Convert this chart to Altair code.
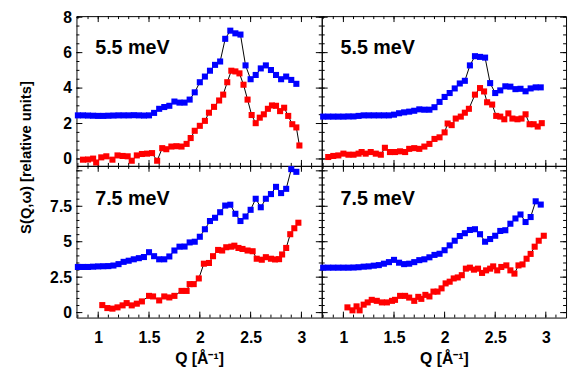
import altair as alt
import pandas as pd

FONT = "Liberation Sans"

# ---------------- data ----------------
Q_GRID = [0.80, 0.85, 0.90, 0.95, 1.00, 1.05, 1.10, 1.15, 1.20, 1.25, 1.30,
          1.35, 1.40, 1.45, 1.50, 1.55, 1.60, 1.65, 1.70, 1.75, 1.80, 1.85,
          1.90, 1.95, 2.00, 2.05, 2.10, 2.15, 2.20, 2.25, 2.30, 2.35, 2.40,
          2.45, 2.50, 2.55, 2.60, 2.65, 2.70, 2.75, 2.80, 2.85, 2.90, 2.95]

BLUE_TL = [2.46, 2.46, 2.45, 2.44, 2.43, 2.43, 2.44, 2.45, 2.46, 2.46, 2.46,
           2.47, 2.46, 2.45, 2.46, 2.60, 2.83, 2.93, 3.00, 3.24, 3.18, 3.18,
           3.35, 3.76, 4.33, 4.65, 4.98, 5.31, 5.50, 6.78, 7.24, 7.09, 7.02,
           5.28, 4.50, 4.74, 5.11, 5.28, 5.02, 4.74, 4.50, 4.65, 4.46, 4.24]
RED_TL_Q = [0.85, 0.90, 0.95, 0.98, 1.03, 1.08, 1.14, 1.19, 1.24, 1.29, 1.33,
            1.38, 1.43, 1.48, 1.53, 1.58, 1.63, 1.67, 1.72, 1.77, 1.82, 1.87,
            1.91, 1.95, 2.00, 2.05, 2.09, 2.14, 2.19, 2.23, 2.27, 2.31, 2.35,
            2.39, 2.43, 2.47, 2.51, 2.55, 2.59, 2.63, 2.67, 2.71, 2.75, 2.79,
            2.83, 2.87, 2.91, 2.95, 2.98]
RED_TL = [-0.04, -0.03, 0.02, -0.20, 0.09, 0.15, -0.04, 0.20, 0.17, 0.15, -0.10,
          0.20, 0.28, 0.30, 0.33, -0.10, 0.61, 0.55, 0.70, 0.72, 0.70, 0.85,
          1.18, 1.59, 1.87, 2.15, 2.61, 2.94, 3.30, 3.63, 4.33, 4.98, 4.94,
          4.83, 4.19, 3.35, 2.48, 2.02, 2.33, 2.52, 2.83, 3.02, 3.00, 2.70,
          2.89, 2.43, 1.96, 1.78, 0.76]

BLUE_TR = [2.39, 2.39, 2.39, 2.39, 2.39, 2.40, 2.40, 2.43, 2.46, 2.46, 2.46,
           2.46, 2.46, 2.46, 2.50, 2.58, 2.63, 2.67, 2.72, 2.80, 2.78, 2.78,
           2.92, 3.22, 3.50, 3.72, 3.98, 4.26, 4.41, 5.28, 5.80, 5.76, 5.72,
           4.28, 3.72, 3.87, 4.10, 4.08, 3.94, 3.96, 3.82, 3.98, 4.04, 4.04]
RED_TR_Q = [0.85, 0.90, 0.95, 1.00, 1.05, 1.10, 1.15, 1.18, 1.22, 1.27, 1.32,
            1.37, 1.41, 1.46, 1.51, 1.56, 1.61, 1.65, 1.70, 1.75, 1.80, 1.85,
            1.90, 1.95, 2.00, 2.03, 2.07, 2.11, 2.16, 2.20, 2.24, 2.30, 2.35,
            2.39, 2.42, 2.47, 2.51, 2.55, 2.59, 2.63, 2.67, 2.72, 2.76, 2.80,
            2.84, 2.88, 2.92, 2.96]
RED_TR = [0.11, 0.17, 0.20, 0.30, 0.24, 0.24, 0.30, 0.39, 0.30, 0.39, 0.30,
          0.24, 0.63, 0.39, 0.39, 0.43, 0.39, 0.57, 0.61, 0.57, 0.70, 0.85,
          1.13, 1.22, 1.50, 2.00, 1.91, 2.28, 2.39, 2.61, 2.83, 3.63, 4.00,
          3.81, 3.20, 3.07, 2.43, 2.39, 2.24, 2.57, 2.28, 2.24, 2.28, 2.52,
          1.96, 1.96, 1.83, 2.02]

BLUE_BL = [3.22, 3.22, 3.22, 3.24, 3.26, 3.27, 3.28, 3.32, 3.42, 3.58, 3.66,
           3.76, 3.84, 3.92, 4.26, 3.98, 3.76, 3.76, 3.96, 4.38, 4.65, 4.66,
           4.95, 5.00, 5.35, 5.88, 6.46, 6.69, 7.08, 7.55, 7.61, 6.97, 6.46,
           6.78, 7.25, 8.03, 7.43, 8.03, 8.36, 8.87, 8.43, 8.73, 10.12, 9.93]
RED_BL_Q = [1.04, 1.09, 1.14, 1.19, 1.24, 1.28, 1.33, 1.38, 1.43, 1.50, 1.54,
            1.60, 1.65, 1.70, 1.75, 1.82, 1.87, 1.90, 1.94, 1.99, 2.04, 2.09,
            2.13, 2.18, 2.22, 2.26, 2.31, 2.34, 2.38, 2.42, 2.47, 2.52, 2.56,
            2.61, 2.65, 2.70, 2.74, 2.78, 2.81, 2.85, 2.89, 2.93, 2.97]
RED_BL = [0.53, 0.32, 0.28, 0.37, 0.51, 0.67, 0.51, 0.63, 0.79, 1.18, 1.14,
          0.86, 1.14, 1.07, 1.18, 1.53, 1.53, 2.01, 2.01, 2.41, 3.45, 3.50,
          3.98, 4.42, 4.38, 4.61, 4.65, 4.72, 4.56, 4.49, 4.38, 4.33, 3.80,
          3.73, 3.91, 3.80, 3.75, 3.77, 4.10, 4.56, 5.53, 5.95, 6.34]

BLUE_BR = [3.17, 3.17, 3.17, 3.17, 3.17, 3.17, 3.18, 3.20, 3.24, 3.26, 3.31,
           3.35, 3.45, 3.56, 3.72, 3.52, 3.42, 3.45, 3.56, 3.70, 3.76, 3.90,
           4.07, 4.15, 4.40, 4.74, 5.07, 5.40, 5.60, 5.83, 5.88, 5.53, 5.00,
           5.19, 5.42, 5.76, 5.81, 6.27, 6.64, 6.92, 6.39, 6.74, 7.85, 7.62]
RED_BR_Q = [1.04, 1.09, 1.13, 1.16, 1.20, 1.24, 1.28, 1.33, 1.38, 1.43, 1.48,
            1.51, 1.56, 1.61, 1.65, 1.70, 1.74, 1.77, 1.81, 1.85, 1.89, 1.93,
            1.97, 2.01, 2.05, 2.09, 2.13, 2.17, 2.21, 2.25, 2.29, 2.33, 2.37,
            2.41, 2.45, 2.48, 2.52, 2.56, 2.61, 2.65, 2.69, 2.73, 2.77, 2.81,
            2.85, 2.89, 2.93, 2.98]
RED_BR = [0.37, 0.16, 0.44, 0.16, 0.56, 0.72, 0.90, 0.83, 0.72, 0.72, 0.83,
          0.90, 1.18, 1.18, 1.06, 0.83, 1.11, 0.97, 1.25, 1.14, 1.48, 1.48,
          1.71, 2.06, 2.18, 2.41, 2.48, 2.64, 3.10, 3.17, 3.03, 3.10, 2.80,
          2.98, 3.10, 3.26, 2.98, 3.22, 3.33, 2.98, 2.75, 3.33, 3.40, 3.80,
          4.14, 4.65, 5.07, 5.42]

PANEL_LABELS = ["5.5 meV", "5.5 meV", "7.5 meV", "7.5 meV"]

X_DOMAIN = [0.786, 3.2]
X_MAJOR = [1, 1.5, 2, 2.5, 3]
X_MINOR = [0.8, 0.9, 1.0, 1.1, 1.2, 1.3, 1.4, 1.5, 1.6, 1.7, 1.8, 1.9, 2.0,
           2.1, 2.2, 2.3, 2.4, 2.5, 2.6, 2.7, 2.8, 2.9, 3.0, 3.1]
Y_TOP_DOMAIN = [-0.39, 8.06]
Y_TOP_MAJOR = [0, 2, 4, 6, 8]
Y_TOP_MINOR = [0, 0.5, 1, 1.5, 2, 2.5, 3, 3.5, 4, 4.5, 5, 5.5, 6, 6.5, 7, 7.5, 8]
Y_BOT_DOMAIN = [-0.35, 10.35]
Y_BOT_MAJOR = [0, 2.5, 5, 7.5, 10]
Y_BOT_LABELS = [0, 2.5, 5, 7.5]
Y_BOT_MINOR = [0, 0.5, 1, 1.5, 2, 2.5, 3, 3.5, 4, 4.5, 5, 5.5, 6, 6.5, 7, 7.5,
               8, 8.5, 9, 9.5, 10]

Y_TITLE = "S(Q,ω) [relative units]"
X_TITLE = "Q [Å⁻¹]"

BLUE = "#0000ff"
RED = "#ff0000"
MAJOR_LEN = 6
MINOR_LEN = 3
TICK_W = 1


def label_axis(orient, values, padding, title=None, **extra):
    kw = dict(orient=orient, values=values, ticks=False, domain=False,
              grid=False, format=".3~g", labelFont=FONT, labelFontSize=16,
              labelFontWeight="bold", labelColor="black",
              labelPadding=padding, title=title)
    if title is not None:
        kw.update(titleFont=FONT, titleFontWeight="bold", titleColor="black")
    kw.update(extra)
    return alt.Axis(**kw)


def panel(blue_q, blue_s, red_q, red_s, ydom, ymaj, ylab, ymin, W, H, label,
          left, bottom, label_y, ytitle=False, xtitle=False):
    blue = pd.DataFrame({"q": blue_q, "s": blue_s})
    red = pd.DataFrame({"q": red_q, "s": red_s})
    xs = alt.Scale(domain=X_DOMAIN, nice=False, zero=False)
    ys = alt.Scale(domain=ydom, nice=False, zero=False)

    if left:
        if ytitle:
            yax = label_axis("left", ylab, 5, Y_TITLE, titleFontSize=15,
                             titleX=-52, titleY=143, titleBaseline="middle",
                             titleAngle=270)
        else:
            yax = label_axis("left", ylab, 5)
    else:
        yax = None
    if bottom:
        xax = label_axis("bottom", X_MAJOR, 12, X_TITLE, titleFontSize=16,
                         titleY=42, titleBaseline="middle")
    else:
        xax = None

    layers = []
    # inward tick marks on all four sides, placed through the panel's scales
    for vals, ln in ((X_MAJOR, MAJOR_LEN), (X_MINOR, MINOR_LEN)):
        d = pd.DataFrame({"v": vals})
        layers.append(alt.Chart(d).mark_rule(color="black", strokeWidth=TICK_W).encode(
            x=alt.X("v:Q", scale=xs, axis=None),
            y=alt.value(H), y2=alt.value(H - ln)))
        layers.append(alt.Chart(d).mark_rule(color="black", strokeWidth=TICK_W).encode(
            x=alt.X("v:Q", scale=xs, axis=None),
            y=alt.value(0), y2=alt.value(ln)))
    for vals, ln in ((ymaj, MAJOR_LEN), (ymin, MINOR_LEN)):
        d = pd.DataFrame({"v": vals})
        layers.append(alt.Chart(d).mark_rule(color="black", strokeWidth=TICK_W).encode(
            y=alt.Y("v:Q", scale=ys, axis=None),
            x=alt.value(0), x2=alt.value(ln)))
        layers.append(alt.Chart(d).mark_rule(color="black", strokeWidth=TICK_W).encode(
            y=alt.Y("v:Q", scale=ys, axis=None),
            x=alt.value(W), x2=alt.value(W - ln)))

    red_line = alt.Chart(red).mark_line(color="black", strokeWidth=1).encode(
        x=alt.X("q:Q", scale=xs, axis=None),
        y=alt.Y("s:Q", scale=ys, axis=None))
    blue_line = alt.Chart(blue).mark_line(color="black", strokeWidth=1).encode(
        x=alt.X("q:Q", scale=xs, axis=xax),
        y=alt.Y("s:Q", scale=ys, axis=yax))
    red_pts = alt.Chart(red).mark_point(shape="square", filled=True, color=RED,
                                        size=38, opacity=1).encode(
        x=alt.X("q:Q", scale=xs, axis=None),
        y=alt.Y("s:Q", scale=ys, axis=None))
    blue_pts = alt.Chart(blue).mark_point(shape="square", filled=True, color=BLUE,
                                          size=38, opacity=1).encode(
        x=alt.X("q:Q", scale=xs, axis=None),
        y=alt.Y("s:Q", scale=ys, axis=None))
    txt = alt.Chart(pd.DataFrame({"t": [label]})).mark_text(
        font=FONT, fontSize=20, fontWeight="bold", color="black",
        align="left", baseline="alphabetic").encode(
        x=alt.value(19), y=alt.value(label_y), text="t:N")
    layers = [blue_line] + layers + [red_line, red_pts, blue_pts, txt]
    return alt.layer(*layers).resolve_axis(
        x="independent", y="independent").properties(width=W, height=H)


tl = panel(Q_GRID, BLUE_TL, RED_TL_Q, RED_TL, Y_TOP_DOMAIN, Y_TOP_MAJOR,
           Y_TOP_MAJOR, Y_TOP_MINOR, 249, 152, PANEL_LABELS[0], True, False, 38,
           ytitle=True)
tr = panel(Q_GRID, BLUE_TR, RED_TR_Q, RED_TR, Y_TOP_DOMAIN, Y_TOP_MAJOR,
           Y_TOP_MAJOR, Y_TOP_MINOR, 248, 152, PANEL_LABELS[1], False, False, 38)
bl = panel(Q_GRID, BLUE_BL, RED_BL_Q, RED_BL, Y_BOT_DOMAIN, Y_BOT_MAJOR,
           Y_BOT_LABELS, Y_BOT_MINOR, 249, 154, PANEL_LABELS[2], True, True, 40,
           xtitle=True)
br = panel(Q_GRID, BLUE_BR, RED_BR_Q, RED_BR, Y_BOT_DOMAIN, Y_BOT_MAJOR,
           Y_BOT_LABELS, Y_BOT_MINOR, 248, 154, PANEL_LABELS[3], False, True, 40,
           xtitle=True)

chart = alt.concat(tl, tr, bl, br, columns=2, spacing=0, bounds="flush").properties(
    padding={"left": 9.5, "top": -2.5, "right": 2, "bottom": 2}
).configure(background="white").configure_view(stroke="black", strokeWidth=1)

chart.save("out.html", embed_options={"renderer": "svg", "actions": False})
